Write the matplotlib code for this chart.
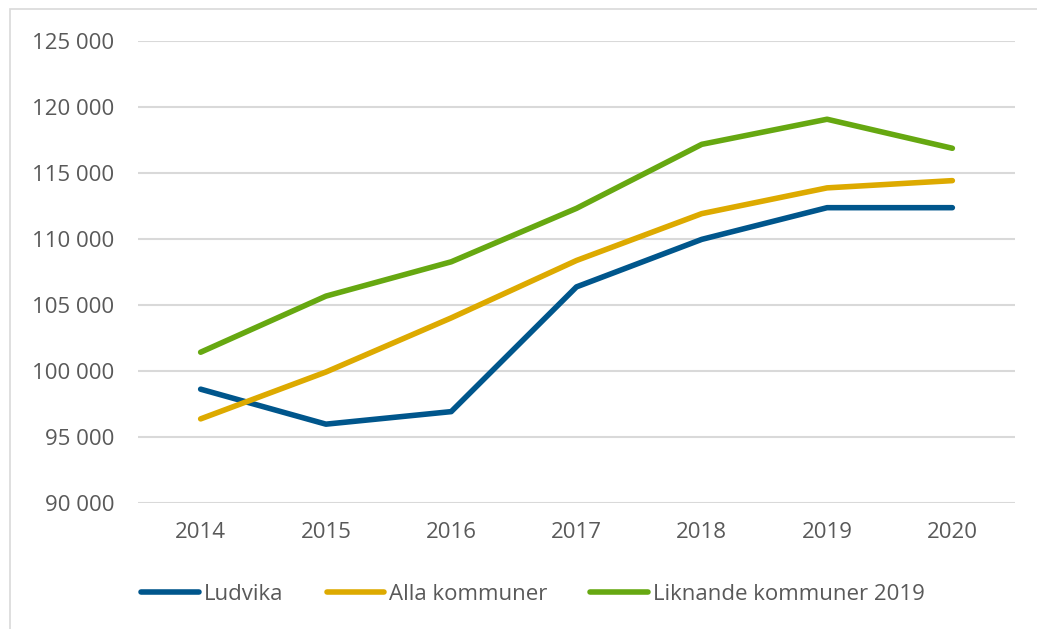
import matplotlib.pyplot as plt
from matplotlib.patches import Rectangle
from matplotlib.ticker import FuncFormatter

years = ['2014', '2015', '2016', '2017', '2018', '2019', '2020']
ludvika = [98600, 95950, 96900, 106350, 109950, 112350, 112350]
alla = [96350, 99900, 104000, 108350, 111900, 113850, 114400]
liknande = [101400, 105650, 108250, 112300, 117150, 119050, 116850]

series_names = ['Ludvika', 'Alla kommuner', 'Liknande kommuner 2019']
colors = ['#00568C', '#DDAA00', '#66A811']

plt.rcParams['font.family'] = ['Open Sans', 'DejaVu Sans']

fig = plt.figure(figsize=(10.37, 6.29), dpi=100)
W, H = 1037, 629
ax = fig.add_axes([138 / W, 1 - 502.7 / H, (1015 - 138) / W, (502.7 - 40.7) / H])

# light frame of the chart area
fig.patches.append(Rectangle((10 / W, -0.05), 1.1, 1 - 9 / H + 0.05,
                             transform=fig.transFigure, fill=False,
                             edgecolor='#D9D9D9', linewidth=1.2))

x = range(len(years))
for vals, name, c in zip([ludvika, alla, liknande], series_names, colors):
    ax.plot(x, vals, color=c, linewidth=4, label=name,
            solid_capstyle='round', solid_joinstyle='round')

ax.set_xlim(-0.5, len(years) - 0.5)
ax.set_ylim(90000, 125000)
ax.set_yticks(range(90000, 125001, 5000))
ax.yaxis.set_major_formatter(FuncFormatter(lambda v, p: '{:,}'.format(int(v)).replace(',', ' ')))
ax.set_xticks(list(x))
ax.set_xticklabels(years)

ax.grid(axis='y', color='#D9D9D9', linewidth=1.5)
ax.set_axisbelow(True)
for s in ax.spines.values():
    s.set_visible(False)
ax.tick_params(length=0, labelsize=16, labelcolor='#595959')
ax.tick_params(axis='y', pad=17)
ax.tick_params(axis='x', pad=14)

fig.legend(loc='center', bbox_to_anchor=(533 / W, 1 - 594 / H), ncol=3,
           frameon=False, fontsize=16, handlelength=2.6, handletextpad=0.2,
           columnspacing=1.95, labelcolor='#595959')

fig.savefig('out.png', dpi=100)
